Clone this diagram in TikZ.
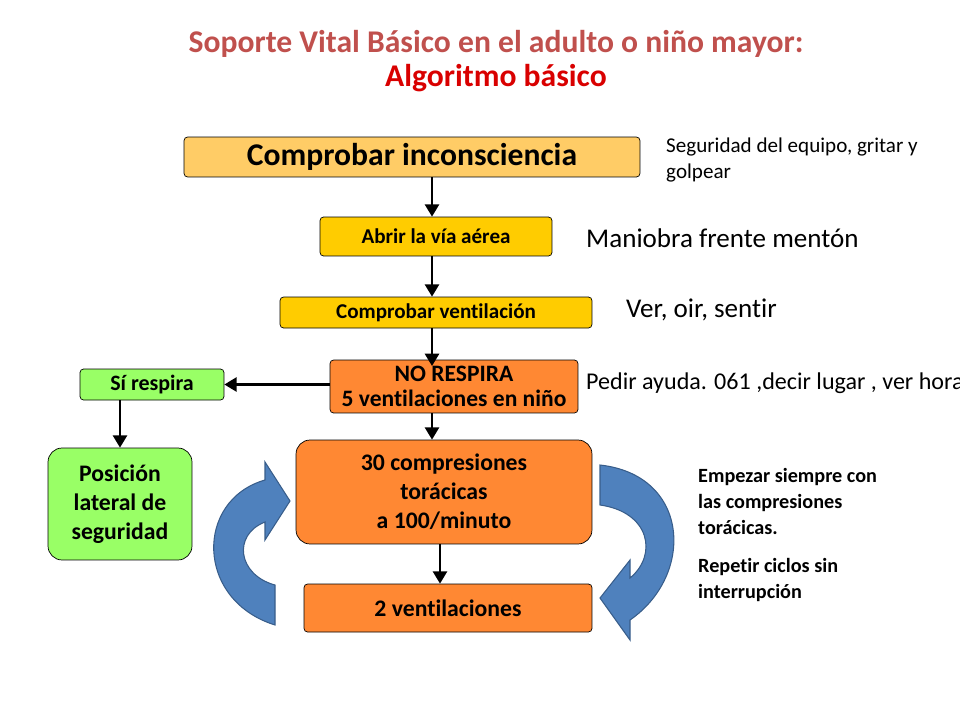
\documentclass[tikz,border=0pt]{standalone}
\usepackage{fontspec}
\setmainfont{Carlito}[Ligatures={NoCommon}]
\usetikzlibrary{arrows.meta, positioning}
\definecolor{titlered}{HTML}{C0504D}
\definecolor{boxlight}{HTML}{FFCC66}
\definecolor{boxyellow}{HTML}{FFCC00}
\definecolor{boxorange}{HTML}{FF8833}
\definecolor{boxgreen}{HTML}{99FF66}
\definecolor{cyclefill}{HTML}{4F81BD}
\definecolor{cycleline}{HTML}{385D8A}

\begin{document}
\begin{tikzpicture}[x=0.02cm, y=-0.02cm,
    stepbox/.style = {draw, rounded corners=2pt, font=\bfseries, align=center, inner sep=1pt},
    flow/.style = {-{Triangle[length=7pt, width=8pt]}, line width=1.4pt},
    note/.style = {anchor=west, align=left},
    cycle/.style = {fill=cyclefill, draw=cycleline, line width=0.6pt}]
    \useasboundingbox (0,0) rectangle (960,720);
    \node (title1) [text=titlered, font=\fontsize{18}{20}\selectfont\bfseries] at (496,44)
        {Soporte Vital Básico en el adulto o niño mayor:};
    \node (title2) [text=red!85!black, font=\fontsize{18}{20}\selectfont\bfseries] at (496,78)
        {Algoritmo básico};

    \node (check) [stepbox, fill=boxlight, minimum width=9.12cm, minimum height=0.8cm,
        font=\fontsize{18}{20}\selectfont\bfseries] at (412,157) {Comprobar inconsciencia};
    \node (airway) [stepbox, fill=boxyellow, minimum width=4.64cm, minimum height=0.78cm,
        font=\fontsize{12}{14}\selectfont\bfseries] at (436,236.5) {Abrir la vía aérea};
    \node (breath) [stepbox, fill=boxyellow, minimum width=6.24cm, minimum height=0.62cm,
        font=\fontsize{12}{14}\selectfont\bfseries] at (436,312.5) {Comprobar ventilación};
    \node (nobreath) [stepbox, fill=boxorange, minimum width=4.96cm, minimum height=1.06cm,
        font=\fontsize{13.4}{14.5}\selectfont\bfseries] at (454,386.5) {NO RESPIRA\\5 ventilaciones en niño};
    \node (yesbreath) [stepbox, fill=boxgreen, minimum width=2.88cm, minimum height=0.62cm,
        font=\fontsize{12.5}{14}\selectfont\bfseries] at (152,384.5) {Sí respira};
    \node (lateral) [stepbox, fill=boxgreen, rounded corners=8pt, minimum width=2.88cm,
        minimum height=2.24cm, font=\fontsize{13.5}{16.5}\selectfont\bfseries] at (120,504)
        {Posición\\lateral de\\seguridad};
    \node (compress) [stepbox, fill=boxorange, rounded corners=8pt, minimum width=5.92cm,
        minimum height=2.08cm, font=\fontsize{13.5}{16.5}\selectfont\bfseries] at (444,492)
        {30 compresiones\\torácicas\\a 100/minuto};
    \node (vent) [stepbox, fill=boxorange, minimum width=5.76cm, minimum height=0.96cm,
        font=\fontsize{13.5}{15}\selectfont\bfseries] at (448,608) {2 ventilaciones};

    % notes
    \node (n1) [note, font=\fontsize{12}{14.5}\selectfont] at (660,160)
        {Seguridad del equipo, gritar y\\golpear};
    \node (n2) [note, font=\fontsize{15.4}{17}\selectfont] at (580,238) {Maniobra frente mentón};
    \node (n3) [note, font=\fontsize{15.4}{17}\selectfont] at (620,310) {Ver, oir, sentir};
    \node (n4) [note, font=\fontsize{13.7}{15}\selectfont] at (580,383)
        {Pedir ayuda. 061 ,decir lugar , ver hora};
    \node (n5) [note, font=\fontsize{11.5}{14.7}\selectfont\bfseries, anchor=north west] at (692,462)
        {Empezar siempre con\\las compresiones\\torácicas.};
    \node (n6) [note, font=\fontsize{11.5}{14.7}\selectfont\bfseries, anchor=north west] at (692,552)
        {Repetir ciclos sin\\interrupción};

    \draw [flow] (check.south -| 432,0) -- (airway.north -| 432,0);
    \draw [flow] (airway.south -| 432,0) -- (breath.north -| 432,0);
    \draw [flow] (breath.south -| 432,0) -- (432,366);
    \draw [flow] (nobreath.south -| 432,0) -- (compress.north -| 432,0);
    \draw [flow] (compress.south -| 440,0) -- (vent.north -| 440,0);
    \draw [flow] (nobreath.west |- yesbreath.east) -- (yesbreath.east);
    \draw [flow] (yesbreath.south -| lateral) -- (lateral);

    % cycle arrows
    \path [cycle] (275,625) .. controls (195,600) and (195,500) .. (265,480)
        -- (265,462) -- (290,501) -- (265,540) -- (265,522)
        .. controls (232,535) and (238,575) .. (275,585) -- cycle;
    \path [cycle] (600,465) .. controls (690,475) and (695,575) .. (630,620)
        -- (630,640) -- (600,598) -- (630,560) -- (630,578)
        .. controls (658,555) and (650,512) .. (600,505) -- cycle;
\end{tikzpicture}
\end{document}
